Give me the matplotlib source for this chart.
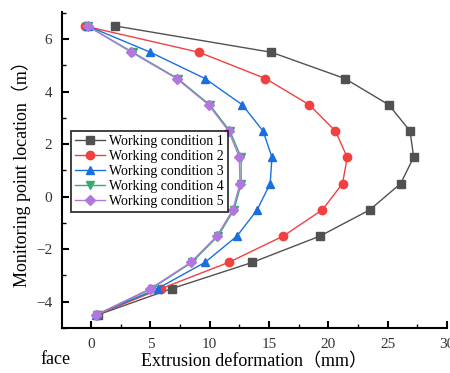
import numpy as np
import matplotlib.pyplot as plt

plt.rcParams['font.family'] = ['Liberation Serif', 'Noto Sans CJK SC']

# monitoring point positions (m)
y_pos = [6.5, 5.5, 4.5, 3.5, 2.5, 1.5, 0.5, -0.5, -1.5, -2.5, -3.5, -4.5]

# extrusion deformation (mm) for each working condition
wc1 = [2.05, 15.2, 21.4, 25.1, 26.9, 27.2, 26.1, 23.5, 19.3, 13.6, 6.8, 0.56]
wc2 = [-0.56, 9.1, 14.7, 18.4, 20.6, 21.6, 21.2, 19.5, 16.2, 11.6, 5.9, 0.48]
wc3 = [-0.3, 5.0, 9.6, 12.75, 14.5, 15.25, 15.1, 14.0, 12.3, 9.6, 5.6, 0.4]
wc4 = [-0.3, 3.5, 7.3, 10.0, 11.7, 12.65, 12.65, 12.05, 10.7, 8.5, 5.1, 0.48]
wc5 = [-0.3, 3.4, 7.2, 9.9, 11.6, 12.5, 12.55, 11.95, 10.6, 8.4, 5.0, 0.42]

labels = ["Working condition 1", "Working condition 2", "Working condition 3",
          "Working condition 4", "Working condition 5"]
colors = ["#515151", "#F14040", "#1A6FDF", "#37AD6B", "#B177DE"]
markers = ["s", "o", "^", "v", "D"]

fig = plt.figure(figsize=(4.5, 3.73), dpi=100)
ax = fig.add_axes([0.138, 0.1206, 0.855, 0.847])

for xs, lab, c, m in zip([wc1, wc2, wc3, wc4, wc5], labels, colors, markers):
    ms = 5 if m == "D" else 6
    ax.plot(xs, y_pos, color=c, marker=m, markersize=ms, linewidth=1, label=lab)

ax.set_xlim(-2.45, 30)
ax.set_ylim(-5, 7.03)
ax.set_xticks([0, 5, 10, 15, 20, 25, 30])
ax.set_xticks(np.arange(2.5, 30, 5), minor=True)
ax.set_yticks([-4, -2, 0, 2, 4, 6])
ax.set_yticks([-5, -3, -1, 1, 3, 5, 7], minor=True)

for s in ["top", "right"]:
    ax.spines[s].set_visible(False)
for s in ["left", "bottom"]:
    ax.spines[s].set_linewidth(1.5)

ax.tick_params(which="major", direction="in", length=5, width=1.5,
               labelsize=11, labelcolor="#333333", pad=7)
ax.tick_params(which="minor", direction="in", length=3, width=1)

ax.set_ylabel("Monitoring point location（m）", fontsize=13, labelpad=4)
ax.set_xlabel("Extrusion deformation（mm）", fontsize=13, labelpad=2)
fig.text(0.09, 0.025, "face", fontsize=13)

leg = ax.legend(loc="upper left", bbox_to_anchor=(0.022, 0.625), fontsize=10,
                frameon=True, fancybox=False, edgecolor="black",
                borderpad=0.3, labelspacing=0.15, handlelength=2.2,
                handletextpad=0.3, borderaxespad=0)
leg.get_frame().set_linewidth(1.3)

fig.savefig("out.png", dpi=100)
